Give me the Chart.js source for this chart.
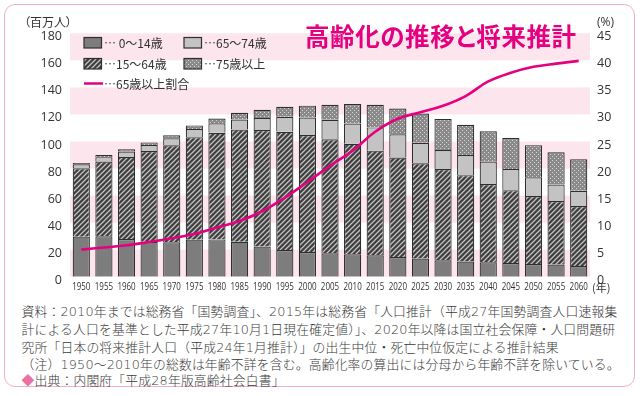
<!DOCTYPE html>
<html lang="ja">
<head>
<meta charset="utf-8">
<script src="https://cdn.jsdelivr.net/npm/chart.js@4/dist/chart.umd.min.js"></script>
<style>
  html,body{margin:0;padding:0;background:#fff;}
  body{width:640px;height:396px;position:relative;overflow:hidden;font-family:"Noto Sans CJK JP",sans-serif;color:#333;}
  #frame{position:absolute;left:4px;top:4px;width:629px;height:381px;border:1.6px solid #f2aecb;border-radius:11px;}
  #c{position:absolute;left:0;top:0;}
  .jp{font-feature-settings:"palt";white-space:nowrap;position:absolute;}
  #title{left:305px;top:22px;font-size:24.5px;font-weight:700;color:#e4007f;line-height:28px;letter-spacing:0.6px;}
  #unitL{left:24px;top:15px;font-size:12px;line-height:14px;}
  #unitR{left:597px;top:15px;font-size:12px;line-height:14px;font-family:"Open Sans","Noto Sans CJK JP",sans-serif;}
  #unitX{left:592px;top:280px;font-size:11px;line-height:14px;}
  .note{position:absolute;left:21.5px;font-size:12.8px;line-height:16px;letter-spacing:0.18px;white-space:nowrap;
        font-family:"DejaVu Sans","Noto Sans CJK JP",sans-serif;font-weight:300;color:#3a3a3a;}
  .dia{color:#ec6fa6;font-family:"Noto Sans CJK JP",sans-serif;}
</style>
</head>
<body>
<div id="frame"></div>
<canvas id="c" width="640" height="300"></canvas>
<div id="title" class="jp">高齢化の推移と将来推計</div>
<div id="unitL" class="jp">（百万人）</div>
<div id="unitR" class="jp">(%)</div>
<div id="unitX" class="jp">(年)</div>
<div class="note" style="top:304px">資料：2010年までは総務省「国勢調査」、2015年は総務省「人口推計（平成27年国勢調査人口速報集</div>
<div class="note" style="top:322px">計による人口を基準とした平成27年10月1日現在確定値）」、2020年以降は国立社会保障・人口問題研</div>
<div class="note" style="top:340px">究所「日本の将来推計人口（平成24年1月推計）」の出生中位・死亡中位仮定による推計結果</div>
<div class="note" style="top:357px">（注）1950～2010年の総数は年齢不詳を含む。高齢化率の算出には分母から年齢不詳を除いている。</div>
<div class="note" style="top:372px"><span class="dia">◆</span>出典：内閣府「平成28年版高齢社会白書」</div>
<script>
// ---- data (millions of people / percent) ----
const years = ['1950','1955','1960','1965','1970','1975','1980','1985','1990','1995','2000','2005','2010','2015','2020','2025','2030','2035','2040','2045','2050','2055','2060'];
const age0to14 = [29.6,29.9,27.9,25.9,25.4,27.4,27.6,25.9,22.3,19.8,18.2,17.3,16.6,15.8,14.6,13.5,12.2,11.2,10.7,10.1,9.4,9.0,7.9];
const age15to64 = [50.6,55.3,60.7,67.0,71.8,75.8,78.8,82.9,86.1,87.4,86.5,84.3,81.7,77.4,73.5,70.4,67.4,63.9,57.9,53.9,50.2,46.9,44.4];
const age65to74 = [2.9,3.2,3.9,4.5,5.1,6.0,7.1,7.5,8.9,11.1,13.0,14.5,15.0,17.2,17.2,15.1,14.1,14.9,16.5,15.7,13.9,12.3,11.2];
const age75plus = [1.0,1.6,1.8,1.9,2.3,2.7,3.5,5.0,6.1,7.3,8.8,11.1,14.4,16.8,19.0,21.7,22.9,22.3,22.5,22.9,23.8,23.8,23.4];
const ratio65plus = [5.0,5.4,5.8,6.4,7.1,7.9,9.1,10.3,12.1,14.6,17.5,20.5,23.3,26.8,29.2,30.4,31.6,33.4,36.1,37.7,38.8,39.4,39.9];
const leftTicks = [0,20,40,60,80,100,120,140,160,180];
const rightTicks = [0,5,10,15,20,25,30,35,40,45];
const labels = ['0～14歳','15～64歳','65～74歳','75歳以上','65歳以上割合'];

// ---- patterns ----
function makeHatch(){
  const s=5, c=document.createElement('canvas'); c.width=s; c.height=s;
  const g=c.getContext('2d');
  g.fillStyle='#3e3e3e'; g.fillRect(0,0,s,s);
  g.strokeStyle='#c4c4c4'; g.lineWidth=1.25;
  g.beginPath();
  g.moveTo(-1,s+1); g.lineTo(s+1,-1);
  g.moveTo(-1,1); g.lineTo(1,-1);
  g.moveTo(s-1,s+1); g.lineTo(s+1,s-1);
  g.stroke();
  return g.createPattern(c,'repeat');
}
function makeDots(){
  const s=4, c=document.createElement('canvas'); c.width=s; c.height=s;
  const g=c.getContext('2d');
  g.fillStyle='#8a8a8a'; g.fillRect(0,0,s,s);
  g.fillStyle='#d6d6d6';
  g.fillRect(0,0,1,1); g.fillRect(2,2,1,1);
  return g.createPattern(c,'repeat');
}
const cSolid='#7d7d7d', cHatch=makeHatch(), cLight='#c3c3c3', cDots=makeDots();
const edge='#2e2e2e', pink='#e4007f';

const bandPlugin={
  id:'bands',
  beforeDatasetsDraw(chart){
    const {ctx,chartArea:a,scales:{y}}=chart;
    ctx.save(); ctx.fillStyle='#fde5ee';
    for(let v=0; v<180; v+=40){
      const t=y.getPixelForValue(v+20), b=y.getPixelForValue(v);
      ctx.fillRect(a.left,t,a.right-a.left,b-t);
    }
    ctx.restore();
  }
};

// x-axis labels drawn condensed at the category scale's positions
const xLabelPlugin={
  id:'xLabels',
  afterDraw(chart){
    const {ctx,scales:{x}}=chart;
    ctx.save();
    ctx.font='10.8px "Open Sans", sans-serif';
    ctx.fillStyle='#333'; ctx.textAlign='center'; ctx.textBaseline='middle';
    const sx=0.74;
    x.getLabels().forEach((lab,i)=>{
      const px=x.getPixelForValue(i);
      ctx.save(); ctx.translate(px,286.7); ctx.scale(sx,1);
      ctx.fillText(lab,0,0); ctx.restore();
    });
    ctx.restore();
  }
};

const legendPlugin={
  id:'legendBox',
  afterDraw(chart){
    const ctx=chart.ctx;
    ctx.save();
    ctx.font='12px "Noto Sans CJK JP", sans-serif';
    ctx.fillStyle='#333'; ctx.textBaseline='middle';
    const items=[
      {x:84, y:37.5, fill:cSolid, text:'… 0～14歳'},
      {x:184,y:37.5, fill:cLight, text:'…65～74歳'},
      {x:84, y:58.5, fill:cHatch, text:'…15～64歳'},
      {x:184,y:58.5, fill:cDots,  text:'…75歳以上'}
    ];
    items.forEach(it=>{
      ctx.fillStyle=it.fill; ctx.fillRect(it.x,it.y,17.5,10.5);
      ctx.strokeStyle=edge; ctx.lineWidth=1.2; ctx.strokeRect(it.x,it.y,17.5,10.5);
      ctx.fillStyle='#333'; ctx.fillText(it.text,it.x+20,it.y+5.5);
    });
    ctx.strokeStyle=pink; ctx.lineWidth=2.5;
    ctx.beginPath(); ctx.moveTo(84,83.5); ctx.lineTo(103,83.5); ctx.stroke();
    ctx.fillStyle='#333'; ctx.fillText('…65歳以上割合',104,84);
    ctx.restore();
  }
};

const barCommon={borderColor:edge,borderWidth:1.2,categoryPercentage:1,barPercentage:0.76,yAxisID:'y',order:2};
new Chart(document.getElementById('c'),{
  type:'bar',
  data:{
    labels:years,
    datasets:[
      {type:'line',label:labels[4],data:ratio65plus,yAxisID:'y2',borderColor:pink,borderWidth:2.6,pointRadius:0,tension:0.4,fill:false,order:0},
      Object.assign({label:labels[0],data:age0to14,backgroundColor:cSolid},barCommon),
      Object.assign({label:labels[1],data:age15to64,backgroundColor:cHatch},barCommon),
      Object.assign({label:labels[2],data:age65to74,backgroundColor:cLight},barCommon),
      Object.assign({label:labels[3],data:age75plus,backgroundColor:cDots},barCommon)
    ]
  },
  options:{
    responsive:false, animation:false,
    layout:{padding:{left:0,right:0,top:33.3,bottom:0}},
    plugins:{legend:{display:false},tooltip:{enabled:false}},
    scales:{
      x:{stacked:true,grid:{display:false,drawTicks:false},border:{display:false},
         ticks:{display:false},
         afterFit(s){s.height=300-276.7;}},
      y:{stacked:true,position:'left',min:0,max:180,
         afterBuildTicks(s){s.ticks=leftTicks.map(v=>({value:v}));},
         grid:{display:false,drawTicks:false},border:{display:false},
         ticks:{padding:8,labelOffset:3.5,color:'#333',font:{family:'"Open Sans",sans-serif',size:12.5}},
         afterFit(s){s.width=70;}},
      y2:{position:'right',min:0,max:45,
         afterBuildTicks(s){s.ticks=rightTicks.map(v=>({value:v}));},
         grid:{display:false,drawTicks:false},border:{display:false},
         ticks:{padding:7,labelOffset:3.5,color:'#333',font:{family:'"Open Sans",sans-serif',size:12.5}},
         afterFit(s){s.width=50;}}
    }
  },
  plugins:[bandPlugin,xLabelPlugin,legendPlugin]
});
</script>
</body>
</html>
